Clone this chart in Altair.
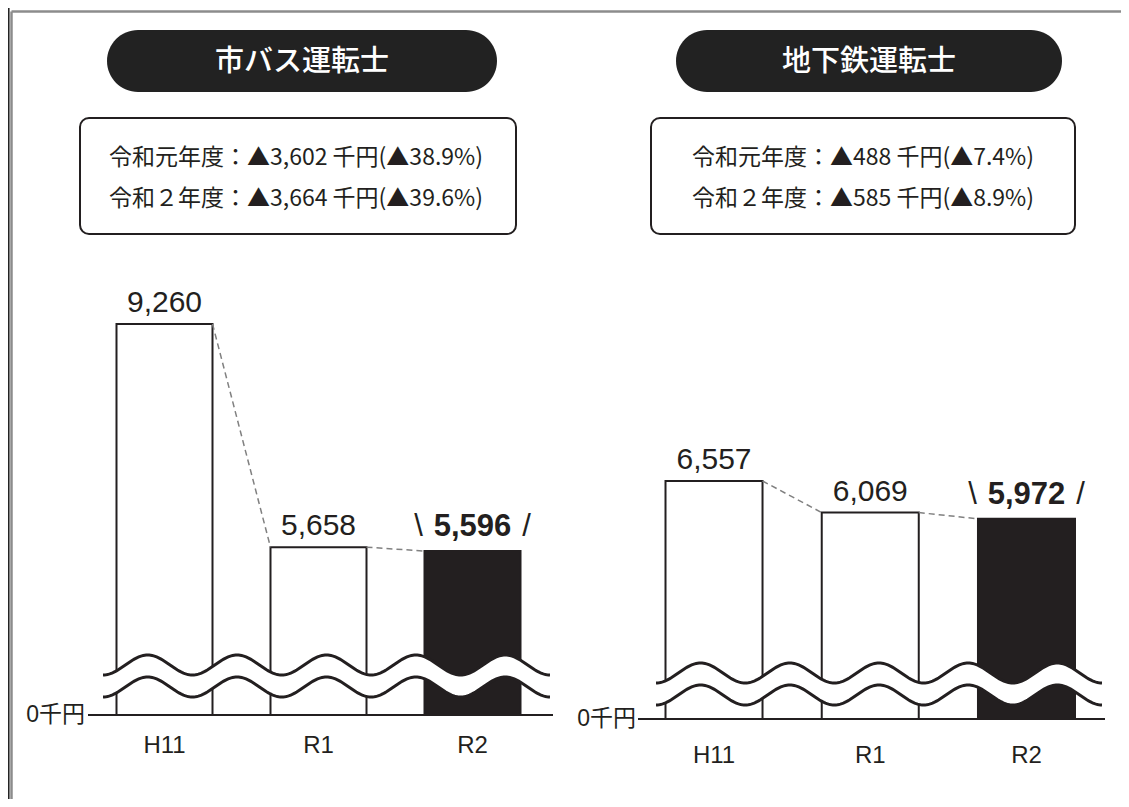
import altair as alt
import numpy as np
import pandas as pd

# ---------------- data ----------------
CATEGORIES = ["H11", "R1", "R2"]
BUS_VALUES = [9260, 5658, 5596]
SUBWAY_VALUES = [6557, 6069, 5972]
PANEL_TITLES = ["市バス運転士", "地下鉄運転士"]
BUS_NOTES = ["令和元年度：▲3,602 千円(▲38.9%)", "令和２年度：▲3,664 千円(▲39.6%)"]
SUBWAY_NOTES = ["令和元年度：▲488 千円(▲7.4%)", "令和２年度：▲585 千円(▲8.9%)"]
ZERO_LABEL = "0千円"
HIGHLIGHT = "R2"

# ---------------- style / layout ----------------
INK = "#231f20"
W, H = 1113, 791
JP = "Noto Sans CJK JP"
LAT = "Liberation Sans"

LEFT = dict(band=[79.5, 541.5], pi=0.3766, ydom=[2950, 9260], yrange=[707, 316],
            base_x=[80, 545], zero_x=77, wave_x=[95, 542], wave_c=[50, 28], cat_dy=31,
            pill=[99, 489, 22, 84], title_x=294, box=[72, 508, 110, 226],
            note_x=288, note_y=[150, 191])
RIGHT = dict(band=[627.9, 1096.6], pi=0.379, ydom=[2878, 6557], yrange=[711, 473],
             base_x=[630, 1097], zero_x=628, wave_x=[648, 1094], wave_c=[46, 24], cat_dy=37,
             pill=[668, 1054, 22, 84], title_x=861, box=[643, 1067, 110, 226],
             note_x=855, note_y=[150, 191])

ONE = pd.DataFrame({"k": [0]})


def panel(values, title, notes, L):
    layers = []
    df = pd.DataFrame({"cat": CATEGORIES, "value": values})
    df["label"] = [f"{v:,}" for v in values]
    xs = alt.Scale(domain=CATEGORIES, range=L["band"], paddingInner=L["pi"],
                   paddingOuter=L["pi"] / 2)
    ys = alt.Scale(domain=L["ydom"], range=L["yrange"], zero=False, nice=False)
    step = (L["band"][1] - L["band"][0]) / 3
    half = step * (1 - L["pi"]) / 2
    X = alt.X("cat:N", scale=xs, axis=None)
    Y = alt.Y("value:Q", scale=ys, axis=None)
    BASE = alt.YDatum(L["ydom"][0], type="quantitative", scale=ys, axis=None)
    base_px = L["yrange"][0]

    # title pill
    p = L["pill"]
    layers.append(alt.Chart(ONE).mark_rect(cornerRadius=(p[3] - p[2]) / 2, color="#222222").encode(
        x=alt.value(p[0]), x2=alt.value(p[1]), y=alt.value(p[2]), y2=alt.value(p[3])))
    layers.append(alt.Chart(ONE).mark_text(font=JP, fontSize=29, fontWeight=500, color="white",
                                           baseline="middle").encode(
        x=alt.value(L["title_x"]), y=alt.value((p[2] + p[3]) / 2 + 1), text=alt.value(title)))
    # note box
    b = L["box"]
    layers.append(alt.Chart(ONE).mark_rect(cornerRadius=9, fill="white", stroke=INK, strokeWidth=2).encode(
        x=alt.value(b[0]), x2=alt.value(b[1]), y=alt.value(b[2]), y2=alt.value(b[3])))
    for line, ly in zip(notes, L["note_y"]):
        layers.append(alt.Chart(ONE).mark_text(font=JP, fontSize=23, color=INK, baseline="middle").encode(
            x=alt.value(L["note_x"]), y=alt.value(ly), text=alt.value(line)))

    # bars
    layers.append(alt.Chart(df).mark_bar(stroke=INK, strokeWidth=2).encode(
        x=X, y=Y, y2=alt.Y2Datum(L["ydom"][0]),
        fill=alt.condition(alt.datum.cat == HIGHLIGHT, alt.value(INK), alt.value("white"))))
    # baseline
    layers.append(alt.Chart(ONE).mark_rule(color=INK, strokeWidth=2).encode(
        x=alt.value(L["base_x"][0]), x2=alt.value(L["base_x"][1]), y=BASE))
    layers.append(alt.Chart(ONE).mark_text(font=LAT + ", " + JP, fontSize=23, color=INK, align="right",
                                           baseline="middle").encode(
        x=alt.value(L["zero_x"]), y=BASE, text=alt.value(ZERO_LABEL)))

    # axis break waves
    t = np.linspace(0, 5, 301)
    cu, cl = L["wave_c"]
    wdf = pd.DataFrame({"t": t, "up": cu - 10 * np.cos(2 * np.pi * t),
                        "lo": cl - 10 * np.cos(2 * np.pi * t)})
    WX = alt.X("t:Q", scale=alt.Scale(domain=[0, 5], range=L["wave_x"], nice=False, zero=False), axis=None)
    wys = alt.Scale(domain=[0, 100], range=[base_px, base_px - 100], nice=False, zero=False)
    layers.append(alt.Chart(wdf).mark_area(color="white", opacity=1).encode(
        x=WX, y=alt.Y("up:Q", scale=wys, axis=None), y2="lo:Q"))
    for fld in ["up", "lo"]:
        layers.append(alt.Chart(wdf).mark_line(color=INK, strokeWidth=3).encode(
            x=WX, y=alt.Y(f"{fld}:Q", scale=wys, axis=None)))

    # dashed connectors
    cdf = pd.DataFrame({"from": CATEGORIES[:-1], "to": CATEGORIES[1:],
                        "v1": values[:-1], "v2": values[1:]})
    layers.append(alt.Chart(cdf).mark_rule(color="#808080", strokeWidth=1.5, strokeDash=[6, 4],
                                           xOffset=half, x2Offset=-half).encode(
        x=alt.X("from:N", scale=xs, axis=None), x2=alt.X2("to"),
        y=alt.Y("v1:Q", scale=ys, axis=None), y2=alt.Y2("v2")))

    # value labels
    layers.append(alt.Chart(df).transform_filter(alt.datum.cat != HIGHLIGHT).mark_text(
        font=LAT, fontSize=30, color=INK, baseline="alphabetic", dy=-12).encode(x=X, y=Y, text="label:N"))
    hl = alt.Chart(df).transform_filter(alt.datum.cat == HIGHLIGHT)
    layers.append(hl.mark_text(font=LAT, fontSize=31, fontWeight="bold", color=INK,
                               baseline="alphabetic", dy=-15).encode(x=X, y=Y, text="label:N"))
    layers.append(hl.mark_text(font=LAT, fontSize=31, color=INK, baseline="alphabetic",
                               dy=-15, dx=-54, text="\\").encode(x=X, y=Y))
    layers.append(hl.mark_text(font=LAT, fontSize=31, color=INK, baseline="alphabetic",
                               dy=-15, dx=54, text="/").encode(x=X, y=Y))

    # category labels
    layers.append(alt.Chart(df).mark_text(font=LAT, fontSize=24, color=INK, baseline="middle",
                                          dy=L["cat_dy"]).encode(x=X, y=BASE, text="cat:N"))
    return layers


frame = [
    alt.Chart(ONE).mark_rule(color="#1a1a1a", strokeWidth=1.5).encode(
        x=alt.value(0.8), y=alt.value(0), y2=alt.value(H)),
    alt.Chart(ONE).mark_rule(color="#8c8c8c", strokeWidth=2.5).encode(
        x=alt.value(3.5), y=alt.value(3.5), y2=alt.value(H)),
    alt.Chart(ONE).mark_rule(color="#8c8c8c", strokeWidth=2.5).encode(
        x=alt.value(3.5), x2=alt.value(W), y=alt.value(3.5)),
]

layers = frame + panel(BUS_VALUES, PANEL_TITLES[0], BUS_NOTES, LEFT) + \
    panel(SUBWAY_VALUES, PANEL_TITLES[1], SUBWAY_NOTES, RIGHT)

chart = alt.layer(*layers).resolve_scale(x="independent", y="independent").properties(
    width=W, height=H, padding=0, autosize=alt.AutoSizeParams(type="none"), background="white"
).configure_view(stroke=None)

chart.save("out.html", embed_options={"renderer": "svg", "actions": False})
